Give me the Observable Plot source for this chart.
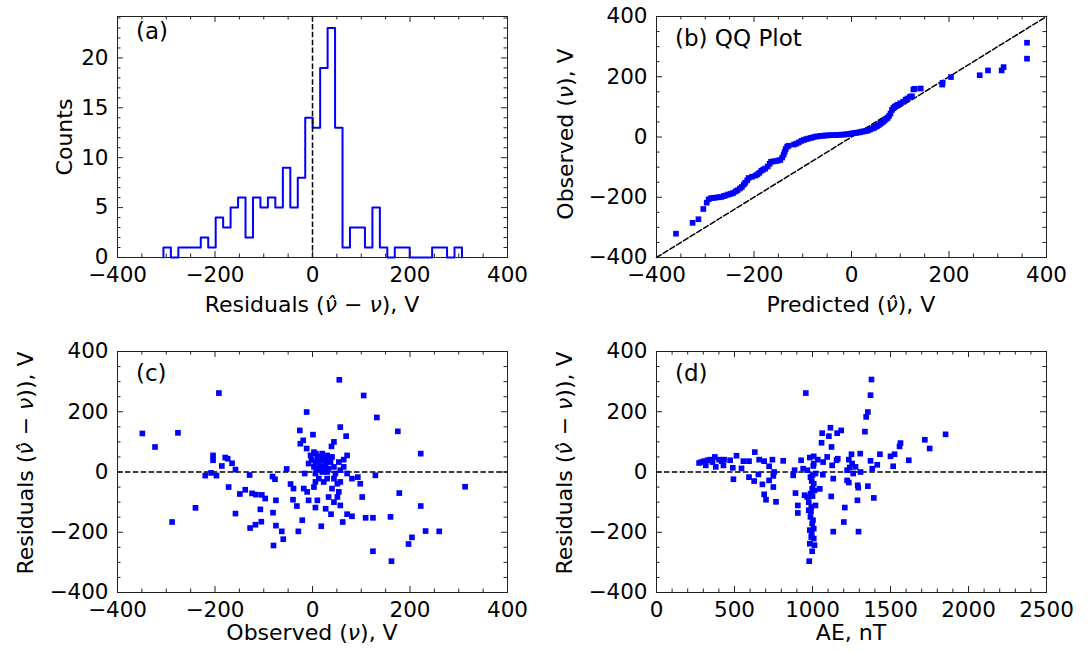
<!DOCTYPE html>
<html><head><meta charset="utf-8">
<script src="https://cdn.jsdelivr.net/npm/d3@7"></script>
<script src="https://cdn.jsdelivr.net/npm/@observablehq/plot@0.6"></script>
<style>
html,body{margin:0;padding:0;background:#fff;}
#fig{position:relative;width:1089px;height:652px;background:#fff;font-family:"DejaVu Sans",sans-serif;}
#fig svg{position:absolute;}
</style></head><body><div id="fig"></div>
<script>
// ---------- data ----------
// (a) histogram of residuals
const histEdges = [-305.8,-290.5,-275.2,-259.9,-244.6,-229.2,-213.9,-198.6,-183.3,-168.0,-152.7,-137.4,-122.1,-106.8,-91.5,-76.2,-60.8,-45.5,-30.2,-14.9,0.4,15.7,31.0,46.3,61.6,76.9,92.3,107.6,122.9,138.2,153.5,168.8,184.1,199.4,214.7,230.0,245.4,260.7,276.0,291.3,306.6];
const histCounts = [1,0,1,1,1,2,1,4,3,5,6,2,6,5,6,5,9,5,8,14,13,19,23,13,1,3,3,1,5,1,0,1,1,0,0,0,1,1,0,1];

// (b) QQ plot: predicted quantiles vs observed quantiles
const qqPredicted = [-360,-326,-314,-304,-297,-293,-288,-283,-278,-272,-267,-262,-258,-253,-248,-243,-238,-234,-229,-225,-221,-218,-214,-211,-204,-197,-193,-189,-185,-181,-177,-172,-168,-165,-160,-155,-150,-146,-142,-139,-137,-135,-132,-129,-118,-113,-108,-103,-98,-93,-88,-83,-79,-74,-70,-65,-60,-55,-50,-45,-40,-35,-30,-25,-20,-15,-10,-6,-2,2,6,10,14,18,22,26,30,34,38,42,46,50,53,56,59,62,65,68,71,74,77,80,83,86,89,92,95,100,106,111,115,120,124,127,130,142,186,187,204,263,280,308,312,360,360];
const qqObserved  = [-321,-285,-273,-239,-218,-207,-203,-202,-201,-200,-199,-196,-194,-191,-189,-186,-181,-177,-171,-166,-158,-152,-144,-136,-132,-128,-124,-119,-112,-108,-105,-98,-89,-82,-81,-80,-78,-76,-68,-58,-49,-40,-32,-29,-25,-22,-18,-13,-10,-7,-5,-3,-1,1,2,3,4,5,5,6,6,6,7,7,8,8,9,10,11,12,13,14,15,16,18,19,20,22,25,28,30,34,37,40,44,47,51,55,60,63,70,78,90,97,101,104,107,112,117,124,128,134,135,158,160,161,174,180,199,205,221,221,232,260,313];
const qqRefLine = [-400, 400];

// (c) residuals vs observed
const obsC = [-349,-323,-276,-288,-240,-192,-204,-204,-186,-179,-174,-165,-158,-220,-208,-197,-172,-158,-149,-138,-129,-124,-116,-104,-97,-107,-105,-128,-117,-82,-77,-75,-81,-75,-63,-60,-80,-53,-45,-39,-40,-32,-29,-26,-25,-12,55,124,105,132,162,197,204,232,260,313,
57,69,1,-19,-12,44,39,175,222,129,178,222,
3,-4,7,20,30,40,71,64,54,-8,6,16,27,37,3,13,23,33,44,64,-16,6,20,30,47,71,57,13,6,23,30,44,51,57,81,93,98,40,54,33,51,44,57,3,-18,-11,-8,10,6,27,38,71,81,109,124,160,102,62,18,-21,
10,25,15,35,12,22,-2,8];
const resC = [128,83,130,-166,-119,262,55,39,20,48,44,29,8,-12,-3,-12,-50,-138,-73,-59,-10,-71,-75,-76,-88,-124,-165,-186,-175,-15,-24,-94,-135,-178,-197,-223,-244,10,-40,-55,-92,-113,-197,138,94,199,306,-263,254,181,-296,-239,-217,-196,-197,-49,
149,119,124,105,78,100,85,135,61,-11,-70,-113,
66,55,61,61,55,50,55,41,33,28,33,39,28,33,17,11,17,11,17,17,-5,-5,0,0,-5,-5,6,-22,-33,-33,-22,-22,-39,-33,-22,-17,-39,-55,-66,-83,-83,-100,-111,-50,-55,-66,-94,-94,-118,-122,-140,-140,-147,-152,-152,-149,-83,-166,-180,-160,
45,45,25,40,52,50,40,8];

// (d) residuals vs AE index
const aeD = [273,288,305,316,327,344,359,374,380,401,418,429,433,472,489,493,513,545,557,593,593,630,626,653,658,679,690,690,702,722,722,743,749,754,749,766,812,
1378,1372,1355,1344,1336,957,1115,1062,1105,1158,1184,1058,1122,1720,1853,1751,1564,1558,1500,1526,1617,1517,1432,1415,1372,1383,1306,1250,1233,1254,1276,1239,1308,1261,1222,1222,1233,1290,1293,1355,1393,1288,1207,1201,1295,1133,1120,1133,1066,1162,1154,1126,1094,1034,1008,983,927,940,885,876,966,1008,1068,987,1019,1008,998,1047,891,949,987,906,906,976,1019,976,987,998,1008,983,992,1008,983,1013,998,979,992,966,1013,
995,1000,990,1003,995,1000,1005];
const resD = [30,33,36,22,39,41,33,50,17,41,36,22,41,39,14,-24,54,12,36,36,-17,66,-30,-8,41,-41,36,-74,-92,19,-28,41,-13,0,-50,-99,37,
307,255,199,183,134,262,147,129,119,129,138,97,83,107,125,78,96,85,52,59,39,19,59,24,37,11,61,59,41,28,17,15,0,-5,6,-28,-35,-44,-52,-47,-86,-94,-118,-166,-198,-198,-81,-22,-9,44,39,22,50,41,52,48,39,11,6,-11,6,28,33,-17,-5,-39,-55,-56,-70,-77,-72,-111,-136,-100,-111,-127,-149,-171,-188,-193,-216,-221,-238,-243,-263,-296,-116,-83,-61,
-30,-80,-130,-160,-205,-10,20];

// ticks
const tickPM400 = [-400,-200,0,200,400];
const minorPM400 = [-350,-300,-250,-150,-100,-50,50,100,150,250,300,350];
const countTicks = [0,5,10,15,20];
const countMinor = [1,2,3,4,6,7,8,9,11,12,13,14,16,17,18,19,21,22,23,24];
const aeTicks = [0,500,1000,1500,2000,2500];
const aeMinor = [100,200,300,400,600,700,800,900,1100,1200,1300,1400,1600,1700,1800,1900,2100,2200,2300,2400];

// labels
const labelResidA = [["Residuals ("],["ν̂",true],[" − "],["ν",true],["), V"]];
const labelResidCD = [["Residuals ("],["ν̂",true],[" − "],["ν",true],[")), V"]];
const labelObserved = [["Observed ("],["ν",true],["), V"]];
const labelPredicted = [["Predicted ("],["ν̂",true],["), V"]];
const labelCounts = [["Counts"]];
const labelAE = [["AE, nT"]];

// ---------- drawing ----------
const FONT = "DejaVu Sans, sans-serif";
const BLUE = "#0000ff";
const DASH = "5.5,2.4";
const fig = document.getElementById("fig");
const fmt = d3.format("d");

function addText(svg, offX, offY, {x, y, parts, rotate = false, size = 22, anchor = "middle"}) {
  const t = d3.select(svg).append("text")
    .attr("font-family", FONT).attr("font-size", size).attr("fill", "black")
    .attr("text-anchor", anchor);
  if (rotate) t.attr("transform", `translate(${x - offX},${y - offY}) rotate(-90)`);
  else t.attr("x", x - offX).attr("y", y - offY);
  for (const [s, it] of parts) {
    const sp = t.append("tspan").text(s);
    if (it) sp.attr("font-style", "italic");
  }
}

function panel(cfg) {
  const {left, top, W, H, mL, mT, mR, mB, xDomain, yDomain, xMajor, xMinor, yMajor, yMinor, marks, texts} = cfg;
  const FW = W - mL - mR, FH = H - mT - mB;
  const MAJ = 6, MIN = 3.5;
  const ts = {stroke: "#222", strokeWidth: 1};
  const svg = Plot.plot({
    width: W, height: H, marginLeft: mL, marginTop: mT, marginRight: mR, marginBottom: mB,
    x: {domain: xDomain}, y: {domain: yDomain},
    style: {fontFamily: FONT, fontSize: "21.5px", color: "black", background: "transparent", overflow: "visible"},
    marks: [
      ...marks,
      Plot.tickX(xMajor, {x: d => d, insetTop: FH - MAJ, ...ts}),
      Plot.tickX(xMajor, {x: d => d, insetBottom: FH - MAJ, ...ts}),
      Plot.tickX(xMinor, {x: d => d, insetTop: FH - MIN, ...ts}),
      Plot.tickX(xMinor, {x: d => d, insetBottom: FH - MIN, ...ts}),
      Plot.tickY(yMajor, {y: d => d, insetRight: FW - MAJ, ...ts}),
      Plot.tickY(yMajor, {y: d => d, insetLeft: FW - MAJ, ...ts}),
      Plot.tickY(yMinor, {y: d => d, insetRight: FW - MIN, ...ts}),
      Plot.tickY(yMinor, {y: d => d, insetLeft: FW - MIN, ...ts}),
      Plot.axisX({ticks: xMajor, anchor: "bottom", tickSize: 0, tickPadding: 9, label: null, tickFormat: fmt}),
      Plot.axisY({ticks: yMajor, anchor: "left", tickSize: 0, tickPadding: 9, label: null, tickFormat: fmt}),
      Plot.frame({stroke: "#222", strokeWidth: 1})
    ]
  });
  svg.style.left = left + "px";
  svg.style.top = top + "px";
  for (const t of texts) addText(svg, left, top, t);
  fig.appendChild(svg);
}

// (a) histogram
const histPts = histCounts.map((c, i) => ({x: histEdges[i], y: c}));
histPts.unshift({x: histEdges[0], y: 0});
histPts.push({x: histEdges[histEdges.length - 1], y: histCounts[histCounts.length - 1]});
histPts.push({x: histEdges[histEdges.length - 1], y: 0});

panel({
  left: 0, top: 0, W: 540, H: 326, mL: 117, mT: 16, mR: 33, mB: 69,
  xDomain: [-400, 400], yDomain: [0, 24.15],
  xMajor: tickPM400, xMinor: minorPM400, yMajor: countTicks, yMinor: countMinor,
  marks: [
    Plot.line(histPts, {x: "x", y: "y", curve: "step-after", stroke: BLUE, strokeWidth: 2}),
    Plot.ruleX([0], {stroke: "black", strokeWidth: 1.5, strokeDasharray: DASH})
  ],
  texts: [
    {x: 136, y: 39, parts: [["(a)"]], anchor: "start", size: 23},
    {x: 312, y: 312, parts: labelResidA},
    {x: 72, y: 137, parts: labelCounts, rotate: true}
  ]
});

// (b) QQ
const qqData = qqPredicted.map((p, i) => ({p, o: qqObserved[i]}));
panel({
  left: 540, top: 0, W: 549, H: 326, mL: 116, mT: 16, mR: 43, mB: 69,
  xDomain: [-400, 400], yDomain: [-400, 400],
  xMajor: tickPM400, xMinor: minorPM400, yMajor: tickPM400, yMinor: minorPM400,
  marks: [
    Plot.line(qqRefLine, {x: d => d, y: d => d, stroke: "black", strokeWidth: 1.5, strokeDasharray: DASH}),
    Plot.dot(qqData, {x: "p", y: "o", symbol: "square", r: 3.2, fill: BLUE, stroke: "none"})
  ],
  texts: [
    {x: 675, y: 46, parts: [["(b) QQ Plot"]], anchor: "start", size: 23},
    {x: 851, y: 312, parts: labelPredicted},
    {x: 573, y: 134, parts: labelObserved, rotate: true}
  ]
});

// (c)
const cData = obsC.map((o, i) => ({o, r: resC[i]}));
panel({
  left: 0, top: 326, W: 540, H: 326, mL: 117, mT: 25, mR: 33, mB: 60,
  xDomain: [-400, 400], yDomain: [-400, 400],
  xMajor: tickPM400, xMinor: minorPM400, yMajor: tickPM400, yMinor: minorPM400,
  marks: [
    Plot.ruleY([0], {stroke: "black", strokeWidth: 1.5, strokeDasharray: DASH}),
    Plot.dot(cData, {x: "o", y: "r", symbol: "square", r: 3.2, fill: BLUE, stroke: "none"})
  ],
  texts: [
    {x: 136, y: 381, parts: [["(c)"]], anchor: "start", size: 23},
    {x: 312, y: 640, parts: labelObserved},
    {x: 33, y: 463, parts: labelResidCD, rotate: true}
  ]
});

// (d)
const dData = aeD.map((a, i) => ({a, r: resD[i]}));
panel({
  left: 540, top: 326, W: 549, H: 326, mL: 116, mT: 25, mR: 43, mB: 60,
  xDomain: [0, 2500], yDomain: [-400, 400],
  xMajor: aeTicks, xMinor: aeMinor, yMajor: tickPM400, yMinor: minorPM400,
  marks: [
    Plot.ruleY([0], {stroke: "black", strokeWidth: 1.5, strokeDasharray: DASH}),
    Plot.dot(dData, {x: "a", y: "r", symbol: "square", r: 3.2, fill: BLUE, stroke: "none"})
  ],
  texts: [
    {x: 675, y: 381, parts: [["(d)"]], anchor: "start", size: 23},
    {x: 851, y: 640, parts: labelAE},
    {x: 572, y: 463, parts: labelResidCD, rotate: true}
  ]
});
</script></body></html>
